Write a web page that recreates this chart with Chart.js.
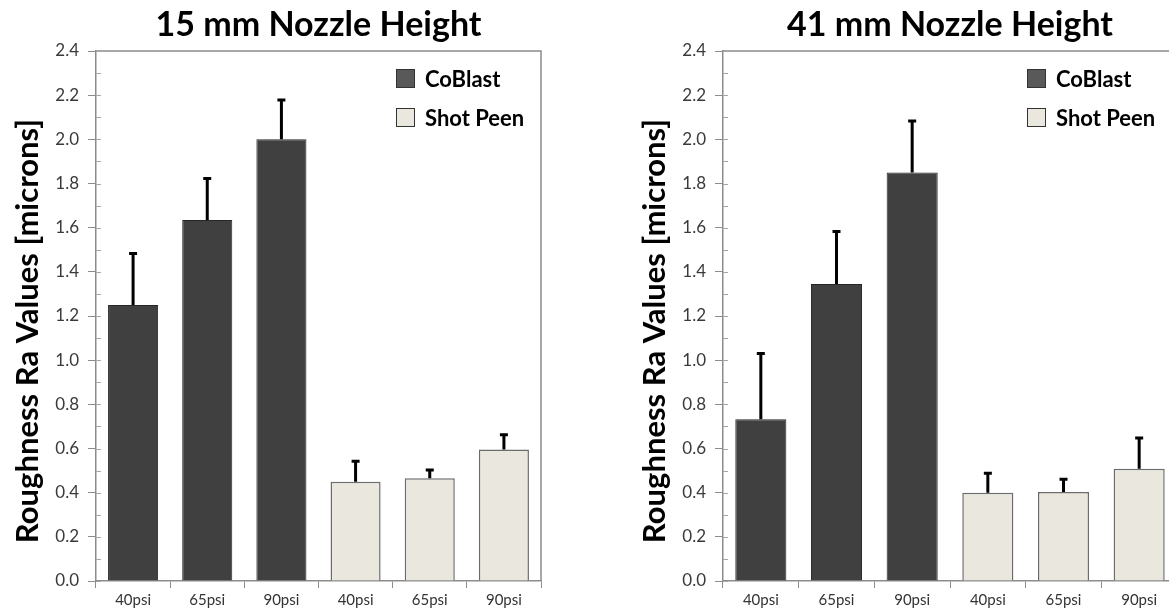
<!DOCTYPE html>
<html>
<head>
<meta charset="utf-8">
<script src="https://cdn.jsdelivr.net/npm/chart.js@4.4.1/dist/chart.umd.min.js"></script>
<style>
    html, body { margin: 0; padding: 0; background: #fff; overflow: hidden; width: 1169px; height: 616px; }
    .panel { position: absolute; top: 0; }
    #left { left: 0; }
    #right { left: 627px; }
</style>
</head>
<body>
<div class="panel" id="left"><canvas id="chart15" width="570" height="616"></canvas></div>
<div class="panel" id="right"><canvas id="chart41" width="570" height="616"></canvas></div>
<script>
/* ==========================================================
   Roughness Ra values, CoBlast vs Shot Peen
   Two panels: 15 mm and 41 mm nozzle height
========================================================== */

const pressures = ["40psi", "65psi", "90psi"];
const seriesNames = ["CoBlast", "Shot Peen"];

// 15 mm nozzle height
const coBlast15 = [1.25, 1.635, 2.0];
const coBlastErr15 = [0.235, 0.19, 0.18];
const shotPeen15 = [0.45, 0.465, 0.595];
const shotPeenErr15 = [0.095, 0.04, 0.07];

// 41 mm nozzle height
const coBlast41 = [0.733, 1.345, 1.85];
const coBlastErr41 = [0.3, 0.24, 0.235];
const shotPeen41 = [0.4, 0.403, 0.508];
const shotPeenErr41 = [0.09, 0.06, 0.142];

const COLORS = {
    dark: "#404040",
    darkBorder: "#262626",
    darkLegend: "#595959",
    light: "#EAE8DE",
    lightBorder: "#6b6b6b",
    axis: "#8c8c8c",
    minor: "#a6a6a6",
    tick: "#3a3a3a"
};

const FONT = "Lato, 'Open Sans', sans-serif";
Chart.defaults.font.family = FONT;
Chart.defaults.color = COLORS.tick;

const isMajor = (v) => Math.round(v * 10) % 2 === 0;
const blanks = pressures.map(() => null);

/* error bars: plus direction only, drawn from the bar top */
const errorBarPlugin = {
    id: "errorBars",
    afterDatasetsDraw(chart) {
        const ctx = chart.ctx;
        const yScale = chart.scales.y;
        chart.data.datasets.forEach((ds, di) => {
            const meta = chart.getDatasetMeta(di);
            meta.data.forEach((bar, i) => {
                const v = ds.data[i];
                const e = ds.errors[i];
                if (v == null || e == null) return;
                const top = yScale.getPixelForValue(v + e);
                ctx.save();
                ctx.strokeStyle = "#000";
                ctx.lineWidth = 3;
                ctx.beginPath();
                ctx.moveTo(bar.x, bar.y);
                ctx.lineTo(bar.x, top);
                ctx.moveTo(bar.x - 4, top + 0.5);
                ctx.lineTo(bar.x + 4, top + 0.5);
                ctx.stroke();
                ctx.restore();
            });
        });
    }
};

/* plot frame, inner minor ticks and the in-plot legend */
const framePlugin = {
    id: "frameLegend",
    afterDraw(chart) {
        const ctx = chart.ctx;
        const area = chart.chartArea;
        const yScale = chart.scales.y;

        ctx.save();
        ctx.strokeStyle = COLORS.axis;
        ctx.lineWidth = 1.5;
        ctx.beginPath();
        ctx.moveTo(area.left, area.top);
        ctx.lineTo(area.right, area.top);
        ctx.lineTo(area.right, area.bottom);
        ctx.stroke();

        ctx.strokeStyle = COLORS.minor;
        ctx.lineWidth = 1;
        yScale.ticks.forEach((t) => {
            const py = Math.round(yScale.getPixelForValue(t.value)) + 0.5;
            ctx.beginPath();
            ctx.moveTo(area.left, py);
            ctx.lineTo(area.left + 5, py);
            ctx.stroke();
        });

        const lx = chart.options.legendX;
        let ly = area.top + 18;
        chart.data.datasets.forEach((ds) => {
            ctx.fillStyle = ds.legendFill;
            ctx.fillRect(lx, ly, 19, 19);
            ctx.strokeStyle = "#333";
            ctx.lineWidth = 1;
            ctx.strokeRect(lx + 0.5, ly + 0.5, 18, 18);
            ctx.fillStyle = "#000";
            ctx.font = "bold 22px " + FONT;
            ctx.textBaseline = "alphabetic";
            ctx.fillText(ds.label, lx + 29, ly + 18);
            ly += 39;
        });
        ctx.restore();
    }
};

function renderPanel(canvasId, title, coBlast, coBlastErr, shotPeen, shotPeenErr, padRight, legendX) {
    const canvas = document.getElementById(canvasId);

    return new Chart(canvas.getContext("2d"), {
        type: "bar",
        data: {
            labels: [...pressures, ...pressures],
            datasets: [
                {
                    label: seriesNames[0],
                    data: [...coBlast, ...blanks],
                    errors: [...coBlastErr, ...blanks],
                    backgroundColor: COLORS.dark,
                    borderColor: COLORS.darkBorder,
                    legendFill: COLORS.darkLegend,
                    borderWidth: 1
                },
                {
                    label: seriesNames[1],
                    data: [...blanks, ...shotPeen],
                    errors: [...blanks, ...shotPeenErr],
                    backgroundColor: COLORS.light,
                    borderColor: COLORS.lightBorder,
                    legendFill: COLORS.light,
                    borderWidth: 1.5
                }
            ]
        },
        options: {
            responsive: false,
            animation: false,
            legendX: legendX,
            layout: { padding: { left: 0, right: padRight, top: 0, bottom: 0 } },
            datasets: {
                bar: { grouped: false, categoryPercentage: 1, barPercentage: 0.675 }
            },
            plugins: {
                legend: { display: false },
                tooltip: { enabled: false },
                title: {
                    display: true,
                    text: title,
                    fullSize: false,
                    color: "#000",
                    font: { size: 34, weight: "bold" },
                    padding: { top: 5, bottom: 5.2 }
                }
            },
            scales: {
                x: {
                    afterFit: (s) => { s.height = 35; },
                    border: { color: COLORS.axis, width: 1.5 },
                    grid: { drawOnChartArea: false, tickLength: 7, color: COLORS.axis },
                    ticks: { color: "#333", font: { size: 15 }, padding: 3, maxRotation: 0, autoSkip: false }
                },
                y: {
                    min: 0,
                    max: 2.4,
                    afterFit: (s) => { s.width = 96; },
                    border: { color: COLORS.axis, width: 1.5 },
                    grid: {
                        drawOnChartArea: false,
                        tickLength: 8,
                        tickColor: (c) => isMajor(c.tick.value) ? COLORS.axis : "rgba(0,0,0,0)"
                    },
                    ticks: {
                        stepSize: 0.1,
                        autoSkip: false,
                        padding: 9,
                        color: COLORS.tick,
                        font: { size: 17 },
                        callback: (v) => isMajor(v) ? v.toFixed(1) : ""
                    },
                    title: {
                        display: true,
                        text: "Roughness Ra Values [microns]\u00A0\u00A0\u00A0\u00A0",
                        color: "#000",
                        font: { size: 31, weight: "bold" },
                        padding: { top: 9, bottom: 0 }
                    }
                }
            }
        },
        plugins: [errorBarPlugin, framePlugin]
    });
}

renderPanel("chart15", "15 mm Nozzle Height", coBlast15, coBlastErr15, shotPeen15, shotPeenErr15, 29, 396);
renderPanel("chart41", "41 mm Nozzle Height", coBlast41, coBlastErr41, shotPeen41, shotPeenErr41, 20, 400);
</script>
</body>
</html>
